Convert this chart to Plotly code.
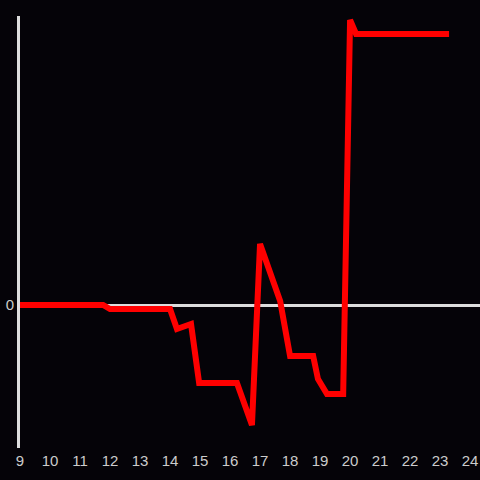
import plotly.graph_objects as go

# часы (x) и значения (y)
hours = [9.0, 11.77, 12.0, 14.0, 14.23, 14.7, 14.97, 16.23, 16.73, 17.0,
         17.67, 17.77, 18.0, 18.77, 18.93, 19.23, 19.77, 20.0, 20.2, 23.3]
values = [0, 0, -4, -4, -24, -19, -78, -78, -120, 61,
          4, -11, -51, -51, -74, -89, -89, 285, 271, 271]

tick_vals = list(range(9, 25))
bg = "#050308"

fig = go.Figure()
fig.add_trace(go.Scatter(
    x=hours,
    y=values,
    mode="lines",
    line=dict(color="#ff0000", width=6),
    showlegend=False,
))

fig.update_layout(
    width=480,
    height=480,
    paper_bgcolor=bg,
    plot_bgcolor=bg,
    margin=dict(l=20, r=0, t=16, b=32),
    font=dict(family="Liberation Sans, Arial, sans-serif", size=15, color="#cccccc"),
)
fig.update_xaxes(
    range=[9, 24.33],
    tickvals=tick_vals,
    showgrid=False,
    zeroline=False,
    showline=False,
    ticks="",
    ticklen=0,
    ticklabelstandoff=2,
)
fig.update_yaxes(
    range=[-143, 289],
    tickvals=[0],
    ticktext=["0"],
    showgrid=False,
    zeroline=True,
    zerolinecolor="#dddddd",
    zerolinewidth=3,
    showline=True,
    linecolor="#dddddd",
    linewidth=3,
    ticks="",
    ticklabelstandoff=0,
)

# убираем отступы страницы, чтобы график лёг в окно 480x480
fig.write_html(
    "out.html",
    config={"displayModeBar": False},
    post_script="document.body.style.margin='0';document.body.style.background='" + bg + "';",
)
